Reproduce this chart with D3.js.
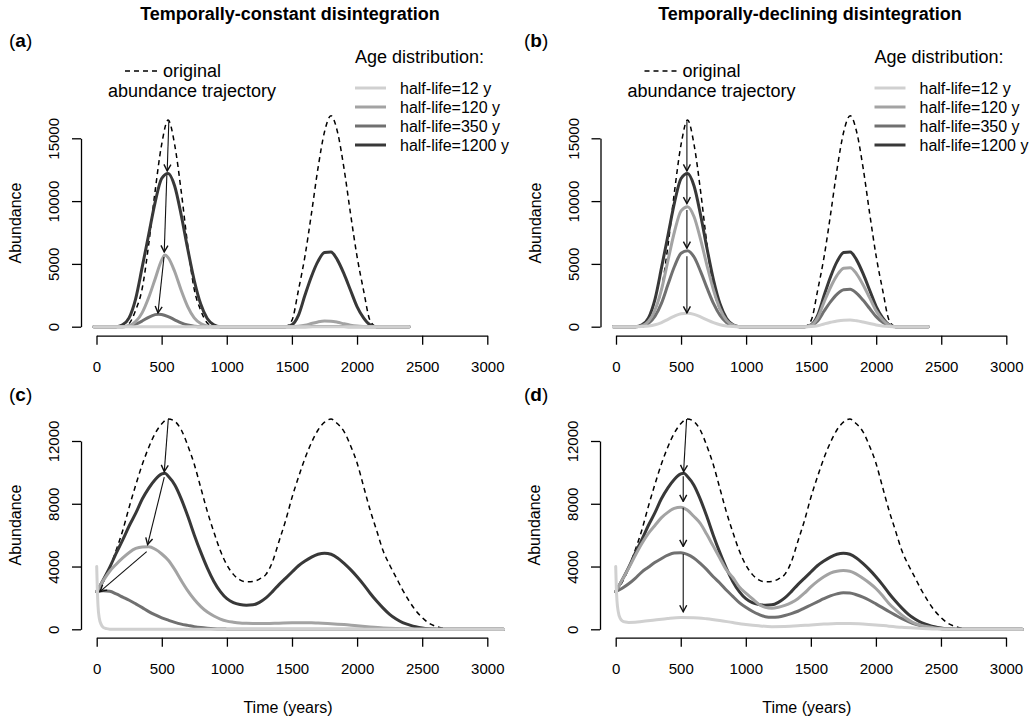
<!DOCTYPE html>
<html>
<head>
<meta charset="utf-8">
<script src="https://cdn.jsdelivr.net/npm/d3@7"></script>
<style>
  body { margin: 0; background: #fff; }
  text { font-family: "Liberation Sans", Arial, Helvetica, sans-serif; fill: #000; }
</style>
</head>
<body>
<svg id="chart" width="1033" height="720"></svg>
<script>
// ---- data: [year, abundance] ----
const xTicks = [0, 500, 1000, 1500, 2000, 2500, 3000];
const yTicksTop = [0, 5000, 10000, 15000];
const yTicksBottom = [0, 4000, 8000, 12000];
const seriesNames = ["half-life=12 y", "half-life=120 y", "half-life=350 y", "half-life=1200 y"];

// top row (a, b)
const topOriginal = [[-20,0],[200,0],[250,250],[300,1300],[350,3000],[400,6500],[450,10800],[500,14500],[550,16450],[600,14500],[650,10800],[700,6500],[750,3000],[800,1300],[850,300],[900,0],
  [1450,0],[1500,500],[1550,2900],[1600,5600],[1650,9000],[1700,12600],[1750,15500],[1800,16800],[1850,15500],[1900,12600],[1950,9000],[2000,5600],[2050,2900],[2100,500],[2150,0],[2400,0]];
const top1200 = [[-20,0],[150,0],[200,150],[250,700],[300,2200],[350,4700],[400,7300],[450,9900],[500,11800],[550,12200],[600,11200],[650,8900],[700,6200],[750,3700],[800,1800],[850,650],[900,150],[950,0],
  [1450,0],[1500,150],[1550,900],[1600,2500],[1650,4000],[1700,5200],[1750,5900],[1800,5950],[1850,5300],[1900,4200],[1950,2900],[2000,1600],[2050,700],[2100,150],[2150,0],[2400,0]];
const a120 = [[-20,0],[200,0],[250,80],[300,400],[350,1100],[400,2300],[450,3800],[500,5300],[525,5700],[550,5500],[600,4400],[650,2900],[700,1600],[750,700],[800,250],[850,60],[900,0],
  [1500,0],[1550,40],[1600,120],[1650,250],[1700,380],[1750,450],[1800,440],[1850,360],[1900,230],[1950,120],[2000,50],[2050,15],[2100,0],[2400,0]];
const a350 = [[-20,0],[200,0],[250,50],[300,200],[350,450],[400,750],[450,960],[475,1000],[500,970],[550,800],[600,550],[650,300],[700,130],[750,40],[800,0],
  [1600,0],[1700,15],[1800,20],[1900,10],[2000,0],[2400,0]];
const a12 = [[-20,0],[2400,0]];
const b120 = [[-20,0],[150,0],[200,80],[250,430],[300,1330],[350,2970],[400,5300],[450,7580],[500,9220],[550,9550],[600,8750],[650,6950],[700,4850],[750,2900],[800,1400],[850,500],[900,120],[950,0],
  [1450,0],[1500,120],[1550,710],[1600,1980],[1650,3160],[1700,4110],[1750,4660],[1800,4700],[1850,4190],[1900,3320],[1950,2290],[2000,1260],[2050,550],[2100,120],[2150,0],[2400,0]];
const b350 = [[-20,0],[150,0],[200,50],[250,270],[300,840],[350,1880],[400,3370],[450,4810],[500,5850],[550,6050],[600,5550],[650,4410],[700,3070],[750,1830],[800,890],[850,320],[900,70],[950,0],
  [1450,0],[1500,75],[1550,450],[1600,1250],[1650,2000],[1700,2600],[1750,2950],[1800,2980],[1850,2650],[1900,2100],[1950,1450],[2000,800],[2050,350],[2100,75],[2150,0],[2400,0]];
const b12 = [[-20,0],[150,0],[200,10],[250,50],[300,150],[350,330],[400,590],[450,850],[500,1030],[550,1065],[600,980],[650,780],[700,540],[750,320],[800,160],[850,60],[900,15],[950,0],
  [1450,0],[1500,15],[1550,80],[1600,220],[1650,350],[1700,460],[1750,520],[1800,530],[1850,470],[1900,370],[1950,260],[2000,140],[2050,60],[2100,15],[2150,0],[2400,0]];

// bottom row (c, d)
const bottomOriginal = [[0,2400],[50,3000],[100,3900],[150,5050],[200,6300],[250,7800],[300,9200],[350,10500],[400,11600],[450,12500],[500,13100],[550,13400],[600,13250],[650,12700],[700,11700],[750,10500],[800,9000],[850,7500],[900,6200],[950,5000],[1000,4100],[1050,3500],[1100,3150],[1150,3030],[1200,3050],[1250,3200],[1300,3500],[1350,4300],[1400,5600],[1450,6900],[1500,8400],[1550,9700],[1600,10900],[1650,11900],[1700,12700],[1750,13200],[1800,13400],[1850,13100],[1900,12600],[1950,11700],[2000,10600],[2050,9100],[2100,7600],[2150,6300],[2200,5000],[2250,4100],[2300,3300],[2350,2500],[2400,1800],[2450,1200],[2500,750],[2550,400],[2600,200],[2650,90],[2700,30],[2750,0],[3125,0]];
const bottom1200 = [[0,2400],[50,3150],[100,3950],[150,4850],[200,5700],[250,6600],[300,7400],[350,8300],[400,9000],[450,9550],[500,9900],[525,9950],[550,9750],[600,9200],[650,8300],[700,7200],[750,6000],[800,4900],[850,3900],[900,3050],[950,2400],[1000,1950],[1050,1700],[1100,1580],[1150,1540],[1200,1560],[1250,1720],[1300,2000],[1350,2400],[1400,2850],[1450,3250],[1500,3650],[1550,4050],[1600,4350],[1650,4600],[1700,4780],[1750,4850],[1800,4780],[1850,4550],[1900,4200],[1950,3800],[2000,3350],[2050,2850],[2100,2300],[2150,1800],[2200,1350],[2250,950],[2300,650],[2350,420],[2400,280],[2450,160],[2500,80],[2550,35],[2600,15],[2650,0],[3125,0]];
const c120 = [[0,2400],[50,3100],[100,3700],[150,4150],[200,4550],[250,4900],[300,5150],[350,5250],[400,5260],[450,5100],[500,4800],[550,4400],[600,3800],[650,3100],[700,2450],[750,1900],[800,1450],[850,1100],[900,850],[950,650],[1000,520],[1050,450],[1100,400],[1150,380],[1200,370],[1300,370],[1400,390],[1500,410],[1600,420],[1650,420],[1700,400],[1800,360],[1900,300],[2000,220],[2100,150],[2200,90],[2300,50],[2400,25],[2500,10],[2600,0],[3125,0]];
const c350 = [[0,2400],[50,2450],[100,2420],[150,2250],[200,2050],[250,1850],[300,1620],[350,1380],[400,1130],[450,920],[500,730],[550,580],[600,440],[650,330],[700,250],[750,170],[800,110],[850,70],[900,40],[950,20],[1000,10],[1100,0],[3125,0]];
const c12 = [[0,4000],[5,2500],[10,1500],[20,700],[35,300],[50,120],[75,40],[100,10],[150,0],[3125,0]];
const d120 = [[0,2400],[50,3150],[100,3900],[150,4700],[200,5450],[250,6100],[300,6600],[350,7100],[400,7450],[450,7700],[500,7780],[550,7600],[600,7200],[650,6750],[700,6050],[750,5300],[800,4550],[850,3800],[900,3300],[950,2700],[1000,2300],[1050,1950],[1100,1600],[1150,1400],[1200,1340],[1250,1400],[1300,1520],[1350,1700],[1400,1950],[1450,2300],[1500,2700],[1550,3050],[1600,3350],[1650,3580],[1700,3700],[1750,3740],[1800,3700],[1850,3520],[1900,3250],[1950,2950],[2000,2600],[2050,2150],[2100,1650],[2150,1250],[2200,900],[2250,600],[2300,380],[2350,250],[2400,160],[2450,80],[2500,40],[2550,15],[2600,0],[3125,0]];
const d350 = [[0,2400],[50,2620],[100,2900],[150,3250],[200,3650],[250,3950],[300,4250],[350,4500],[400,4720],[450,4860],[500,4880],[550,4780],[600,4550],[650,4200],[700,3800],[750,3350],[800,2950],[850,2500],[900,2100],[950,1700],[1000,1400],[1050,1150],[1100,950],[1150,800],[1200,760],[1250,790],[1300,880],[1350,1000],[1400,1150],[1450,1350],[1500,1550],[1550,1750],[1600,1950],[1650,2130],[1700,2260],[1750,2330],[1800,2320],[1850,2200],[1900,2050],[1950,1850],[2000,1620],[2050,1380],[2100,1130],[2150,900],[2200,680],[2250,490],[2300,330],[2350,210],[2400,130],[2450,70],[2500,35],[2550,15],[2600,0],[3125,0]];
const d12 = [[0,4000],[5,2600],[10,1800],[20,1100],[35,700],[50,540],[75,460],[100,440],[150,450],[200,490],[300,590],[400,690],[500,750],[600,740],[700,670],[800,560],[900,430],[1000,310],[1100,220],[1200,170],[1300,180],[1400,220],[1500,280],[1600,330],[1700,370],[1800,370],[1900,340],[2000,280],[2100,200],[2200,130],[2300,80],[2400,40],[2500,20],[2600,5],[2700,0],[3125,0]];

// arrows: [year0, value0, year1, value1]
const arrowsA = [[555,16350,543,12400],[540,12050,520,5950],[518,5550,472,1100]];
const arrowsB = [[545,16350,545,12400],[545,12100,545,9800],[545,9300,545,6250],[545,5600,545,1100]];
const arrowsC = [[550,13400,519,10050],[519,9700,391,5400],[384,4950,25,2400]];
const arrowsD = [[545,13400,522,10050],[519,9750,519,8150],[519,7750,519,5280],[519,4800,519,1120]];

// ---- rendering ----
const svg = d3.select("#chart");
const greys = ["#d0d0d0", "#a3a3a3", "#707070", "#383838"];

svg.append("defs").append("marker")
    .attr("id", "head")
    .attr("viewBox", "-8 -5 9 10")
    .attr("refX", 0).attr("refY", 0)
    .attr("markerWidth", 9).attr("markerHeight", 10)
    .attr("markerUnits", "userSpaceOnUse")
    .attr("orient", "auto")
    .append("path")
    .attr("d", "M-6.5,-3.5L0,0L-6.5,3.5")
    .attr("fill", "none")
    .attr("stroke", "#111")
    .attr("stroke-width", 1.4);

function drawPanel(p) {
    const x = d3.scaleLinear().domain([0, 3000]).range([p.x0, p.x1]);
    const y = d3.scaleLinear().domain([0, p.yTicks[p.yTicks.length - 1]]).range([p.yb, p.yt]);
    const g = svg.append("g");

    // x axis
    const gx = g.append("g")
        .attr("transform", `translate(0,${p.axisY})`)
        .call(d3.axisBottom(x).tickValues(xTicks).tickSize(9).tickSizeOuter(0).tickFormat(d3.format("d")));
    // y axis
    const gy = g.append("g")
        .attr("transform", `translate(${p.axisX},0)`)
        .call(d3.axisLeft(y).tickValues(p.yTicks).tickSize(9).tickSizeOuter(0).tickFormat(d3.format("d")));
    [gx, gy].forEach(a => {
        a.attr("font-size", null).attr("font-family", null);
        a.selectAll("path, line").attr("stroke", "#000").attr("stroke-width", 1.3);
        a.selectAll("text").attr("font-size", 15).attr("fill", "#000");
    });
    gx.selectAll("text").attr("y", 36).attr("dy", 0);
    gy.selectAll("text")
        .attr("transform", "rotate(-90)")
        .attr("x", 0).attr("y", -22).attr("dy", 0)
        .attr("text-anchor", "middle");

    g.append("text")
        .attr("transform", `translate(${p.axisX - 60},${p.labelY}) rotate(-90)`)
        .attr("text-anchor", "middle")
        .attr("font-size", 16)
        .text("Abundance");

    if (p.xlabel) {
        g.append("text")
            .attr("x", (x(0) + x(3000)) / 2 - 4).attr("y", p.axisY + 75)
            .attr("text-anchor", "middle")
            .attr("font-size", 16)
            .text("Time (years)");
    }

    const line = d3.line()
        .curve(d3.curveMonotoneX)
        .x(d => x(d[0]))
        .y(d => y(d[1]));

    g.append("path")
        .attr("d", line(p.original))
        .attr("fill", "none")
        .attr("stroke", "#000")
        .attr("stroke-width", 1.5)
        .attr("stroke-dasharray", "5,4");

    // darkest first, lightest on top
    g.append("g").selectAll("path")
        .data(p.series.map((s, i) => ({s, i})).reverse())
        .join("path")
        .attr("d", d => line(d.s))
        .attr("fill", "none")
        .attr("stroke", d => greys[d.i])
        .attr("stroke-width", 3)
        .attr("stroke-linejoin", "round")
        .attr("stroke-linecap", "round");

    g.append("g").selectAll("line")
        .data(p.arrows)
        .join("line")
        .attr("x1", d => x(d[0])).attr("y1", d => y(d[1]))
        .attr("x2", d => x(d[2])).attr("y2", d => y(d[3]))
        .attr("stroke", "#111")
        .attr("stroke-width", 1.1)
        .attr("marker-end", "url(#head)");

    const lab = g.append("text").attr("x", p.tagX).attr("y", p.tagY).attr("font-size", 19);
    lab.append("tspan").text("(");
    lab.append("tspan").attr("font-weight", "bold").text(p.tag);
    lab.append("tspan").text(")");

    if (p.legendX != null) {
        const lx = p.legendX;
        g.append("text").attr("x", lx).attr("y", 63).attr("font-size", 18).text("Age distribution:");
        const rows = g.append("g").selectAll("g")
            .data(seriesNames)
            .join("g")
            .attr("transform", (d, i) => `translate(${lx},${88 + i * 19})`);
        rows.append("line")
            .attr("x1", 0).attr("x2", 31)
            .attr("stroke", (d, i) => greys[i])
            .attr("stroke-width", 3);
        rows.append("text")
            .attr("x", 45).attr("y", 5.5)
            .attr("font-size", 16)
            .text(d => d);

        const ox = p.origX;
        g.append("line")
            .attr("x1", ox).attr("x2", ox + 33)
            .attr("y1", 71).attr("y2", 71)
            .attr("stroke", "#000").attr("stroke-width", 1.5)
            .attr("stroke-dasharray", "5,4");
        g.append("text").attr("x", ox + 38).attr("y", 77).attr("font-size", 18).text("original");
        g.append("text").attr("x", ox + 67).attr("y", 97).attr("font-size", 18)
            .attr("text-anchor", "middle").text("abundance trajectory");
    }
}

const panels = [
    {tag: "a", x0: 96.5, x1: 487.3, yb: 326.7, yt: 138.3, axisX: 81, axisY: 335.7, yTicks: yTicksTop, labelY: 223,
     original: topOriginal, series: [a12, a120, a350, top1200], arrows: arrowsA, tagX: 9, tagY: 47,
     legendX: 355, origX: 125},
    {tag: "b", x0: 616, x1: 1006.3, yb: 326.7, yt: 138.3, axisX: 600.5, axisY: 335.7, yTicks: yTicksTop, labelY: 223,
     original: topOriginal, series: [b12, b120, b350, top1200], arrows: arrowsB, tagX: 524, tagY: 47,
     legendX: 874.5, origX: 644.5},
    {tag: "c", x0: 96.7, x1: 487.3, yb: 629.3, yt: 441, axisX: 81, axisY: 637.7, yTicks: yTicksBottom, labelY: 525,
     original: bottomOriginal, series: [c12, c120, c350, bottom1200], arrows: arrowsC, tagX: 9, tagY: 401, xlabel: true},
    {tag: "d", x0: 615.7, x1: 1006, yb: 629.3, yt: 441, axisX: 600, axisY: 637.7, yTicks: yTicksBottom, labelY: 525,
     original: bottomOriginal, series: [d12, d120, d350, bottom1200], arrows: arrowsD, tagX: 524, tagY: 401, xlabel: true}
];
panels.forEach(drawPanel);

svg.append("text").attr("x", 290).attr("y", 20).attr("text-anchor", "middle")
    .attr("font-size", 18).attr("font-weight", "bold").text("Temporally-constant disintegration");
svg.append("text").attr("x", 810).attr("y", 20).attr("text-anchor", "middle")
    .attr("font-size", 18).attr("font-weight", "bold").text("Temporally-declining disintegration");
</script>
</body>
</html>
